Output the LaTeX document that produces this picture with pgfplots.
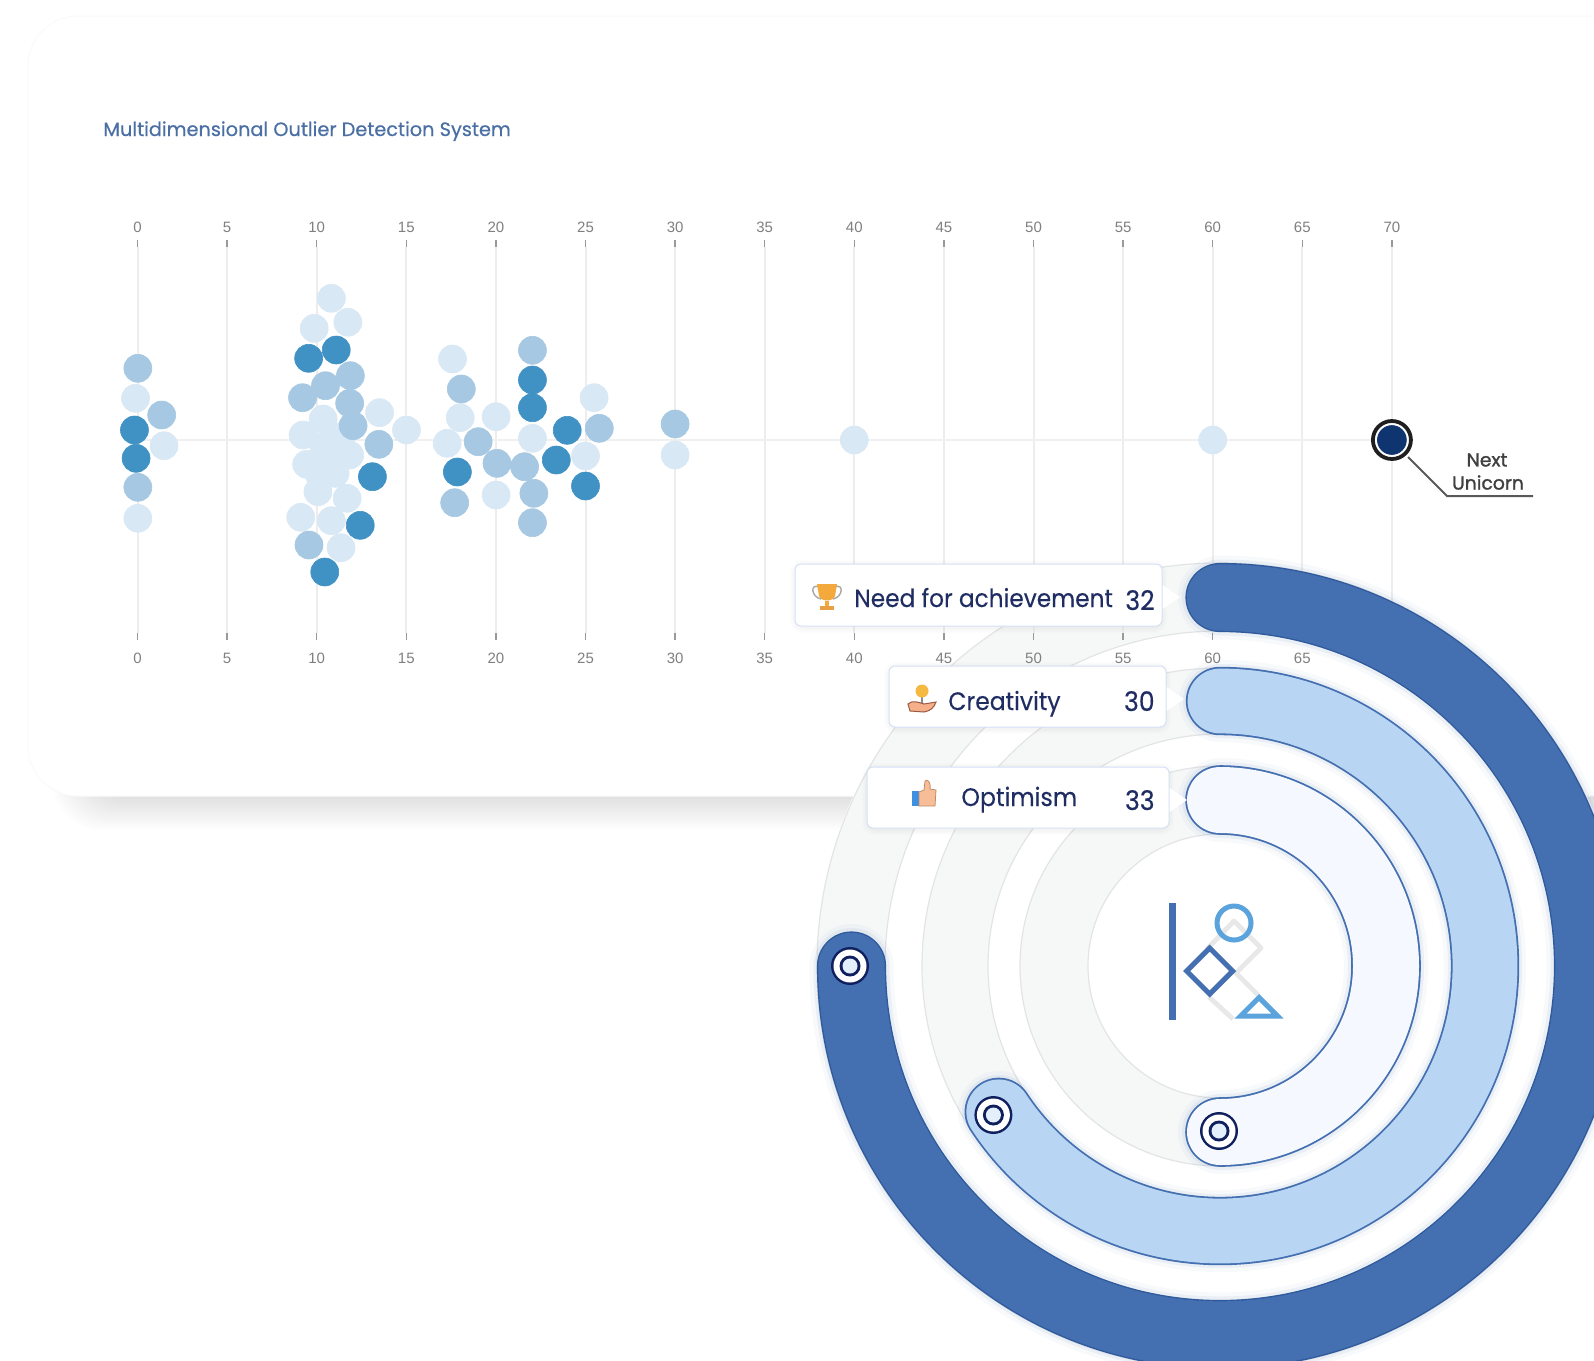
\documentclass[border=0pt]{standalone}
\usepackage{fontspec}
\usepackage{pgfplots}
\pgfplotsset{compat=1.18}
\usetikzlibrary{calc}
\setmainfont{Poppins}
\newfontfamily\arial{Liberation Sans}
\newfontfamily\tipf{Poppins}[FakeStretch=0.93,FakeBold=0.25]
\newfontfamily\titf{Poppins}[FakeBold=0.5]
\newfontfamily\unif{Poppins}[FakeBold=1.3]
\definecolor{cL}{HTML}{D9E8F5}
\definecolor{cM}{HTML}{A6C8E2}
\definecolor{cD}{HTML}{4192C4}
\definecolor{navy}{HTML}{10205E}
\definecolor{uni}{HTML}{0E3570}
\definecolor{ringA}{HTML}{446FB0}
\definecolor{ringAe}{HTML}{2F5A9C}
\definecolor{ringB}{HTML}{B8D6F4}
\definecolor{ringC}{HTML}{F5F8FE}
\definecolor{track}{HTML}{F4F6F6}
\definecolor{trackE}{HTML}{E2E4E6}
\definecolor{ink}{HTML}{1F2D63}
\definecolor{logoL}{HTML}{5BA3DC}
\definecolor{titlec}{HTML}{4A6FA5}
\definecolor{tipE}{HTML}{D5E0F5}
\definecolor{pale}{HTML}{E3F0FB}
\definecolor{gold}{HTML}{F4A93C}
\definecolor{gold2}{HTML}{E8A040}
\definecolor{bulb}{HTML}{F5B942}
\definecolor{peach}{HTML}{F5B08A}
\definecolor{peachE}{HTML}{9A5A44}
\definecolor{thumbB}{HTML}{3F8FE0}
\definecolor{thumbP}{HTML}{F7BD96}
\definecolor{thumbE}{HTML}{C08A6A}
\newcommand{\px}[1]{\fontsize{#1}{#1}\selectfont}
\tikzset{pix/.style={x=0.5pt,y=-0.5pt}}
\pgfplotsset{base/.style={
  at={(68.75pt,-316.5pt)},anchor=south west,width=627.2pt,height=193pt,scale only axis,
  xmin=0,xmax=70,ymin=-193,ymax=193,xtick={0,5,...,70},ytick=\empty,clip=false,
  axis line style={draw=none},major tick length=3.5pt,tick align=outside,
  xtick style={draw=black!40,line width=.7pt},
  xticklabel style={font=\arial\px{7.5},text=black!50},
  /pgf/number format/assume math mode=true}}
\begin{document}
\begin{tikzpicture}
\useasboundingbox (0,0) rectangle (797pt,-680pt);
\clip (0,0) rectangle (797pt,-680pt);
\begin{scope}[pix]
\fill[white] (0,0) rectangle (1594,1360);
% card with soft shadow
\foreach \i in {0,...,14}{
  \fill[black,opacity=.006,rounded corners=25pt] ({52+2*\i},100) rectangle (1640,{830-2.2*\i});
}
\draw[black!2,line width=.5pt,rounded corners=25pt,fill=white] (28,16) rectangle (1640,796);
% ring tracks
\coordinate (c) at (1220,966);
\fill[white] (c) circle[radius=404];
\foreach \a/\b in {403/335,298/232,200/132}{
  \fill[track,opacity=.75,even odd rule] (c) circle[radius=\a] (c) circle[radius=\b];
  \draw[trackE,line width=.6pt] (c) circle[radius=\a] (c) circle[radius=\b];
}
\end{scope}
% swarm
\begin{axis}[base,xtick pos=bottom,xticklabel pos=bottom,xmajorgrids,
  grid style={draw=black!7,line width=1pt},tick label style={yshift=-3pt}]
\addplot[black!6,line width=1pt] coordinates {(0,0)(70,0)};
\addplot[only marks,mark=*,mark size=7pt,mark options={fill=cL,draw=cL,line width=.3pt}] coordinates {
(-0.11,41.7)(0.02,-78.3)(1.48,-5.7)
(10.82,141.7)(9.86,111.7)(11.74,117.7)(13.51,27.3)(15.01,10)
(10.36,21)(9.24,5)(10.40,-6.7)(11.84,-15)(10.59,-20)(9.44,-24.3)(11.03,-33.3)
(11.36,3.3)(10.2,-36.7)
(10.07,-51.7)(11.70,-58.3)(9.11,-77.3)(10.82,-80.7)(11.36,-107.7)
(17.58,81)(18.01,22.3)(20.01,23.3)(17.28,-3.3)(20.01,-55)
(22.04,1.7)(25.48,42.3)(25.00,-16)
(30,-15)(40,0)(60,0)};
\addplot[only marks,mark=*,mark size=7pt,mark options={fill=cM,draw=cM,line width=.3pt}] coordinates {
(0.02,71.7)(0.02,-47.3)(1.35,25)
(11.88,64.3)(10.49,54.3)(9.21,42.3)(11.84,36.7)(12.03,14.3)(13.47,-4.3)(9.57,-105)
(18.07,51)(19.01,-1.7)(20.06,-23.3)(17.70,-62.7)
(22.04,89.7)(25.77,11.7)(21.60,-26.7)(22.12,-53.3)(22.04,-82.7)
(30,16)};
\addplot[only marks,mark=*,mark size=7pt,mark options={fill=cD,draw=cD,line width=.3pt}] coordinates {
(-0.17,10)(-0.08,-18.3)
(9.55,81.7)(11.09,90)(13.11,-36.7)(12.43,-85.3)(10.45,-132)
(17.85,-32)(22.04,60)(22.04,32.3)(23.98,9.7)(23.37,-20)(25.00,-46)};
\addplot[only marks,mark=*,mark size=9.5pt,mark options={fill=white,draw=black!88,line width=1.9pt}] coordinates {(70,0)};
\addplot[only marks,mark=*,mark size=7.2pt,mark options={fill=uni,draw=uni}] coordinates {(70,0)};
\end{axis}
\begin{axis}[base,xtick pos=top,xticklabel pos=top]
\end{axis}
\begin{scope}[pix]
% title and callout
\node[anchor=base west,inner sep=0,text=titlec,font=\titf\px{9.65}] at (103,136) {Multidimensional Outlier Detection System};
\draw[black!65,line width=1pt] (1408,457) -- (1447,496) -- (1533,496);
\node[inner sep=0,text=black!75,font=\unif\px{9.4}] at (1487,460) {Next};
\node[inner sep=0,text=black!75,font=\unif\px{9.4}] at (1488,482.5) {Unicorn};
% rings
\foreach \w/\s in {8/.04,4/.07}{
  \draw[ringA,opacity=\s,line width=34pt+\w pt,line cap=round] (c) ++(-90:368.5) arc[start angle=-90,end angle=180,radius=368.5];
  \draw[ringA,opacity=\s,line width=33pt+\w pt,line cap=round] (c) ++(-90:265) arc[start angle=-90,end angle=146.6,radius=265];
  \draw[ringA,opacity=\s,line width=34pt+\w pt,line cap=round] (c) ++(-90:166) arc[start angle=-90,end angle=90,radius=166];
}
\draw[ringAe,line width=34.6pt,line cap=round] (c) ++(-90:368.5) arc[start angle=-90,end angle=180,radius=368.5];
\draw[ringA,line width=33.2pt,line cap=round] (c) ++(-90:368.5) arc[start angle=-90,end angle=180,radius=368.5];
\draw[ringA,line width=34.2pt,line cap=round] (c) ++(-90:265) arc[start angle=-90,end angle=146.6,radius=265];
\draw[ringB,line width=32.4pt,line cap=round] (c) ++(-90:265) arc[start angle=-90,end angle=146.6,radius=265];
\draw[ringA,line width=34.8pt,line cap=round] (c) ++(-90:166) arc[start angle=-90,end angle=90,radius=166];
\draw[ringC,line width=33pt,line cap=round] (c) ++(-90:166) arc[start angle=-90,end angle=90,radius=166];
% targets
\foreach \p in {(850,966),(993.4,1115),(1219,1131)}{
  \fill[navy] \p circle[radius=19];
  \fill[white] \p circle[radius=16.5];
  \fill[navy] \p circle[radius=10.5];
  \fill[pale] \p circle[radius=7.5];
}
% logo
\fill[ringA] (1169,903) rectangle (1175.5,1020);
\draw[black!9,line width=2.4pt,line join=round] (1207,949) -- (1234,921) -- (1261,948) -- (1236,973) -- (1258,995);
\draw[black!9,line width=2.4pt] (1209,997) -- (1233,1019);
\draw[ringA,line width=2.5pt,line join=miter] (1209.7,948) -- (1232.7,971) -- (1209.7,994) -- (1186.7,971) -- cycle;
\draw[logoL,line width=2.5pt] (1234,923) circle[radius=17];
\draw[logoL,line width=2.5pt,line join=miter] (1259,997.5) -- (1277.5,1016) -- (1240.5,1016) -- cycle;
% tooltips
\foreach \xa/\ya/\xb/\yb in {795/564/1162/626,889/666/1166/727,867/767/1169/828}{
  \foreach \k in {0,...,4}{
    \fill[black,opacity=.006,rounded corners=6pt] ({\xa-\k-1},{\ya-\k}) rectangle ({\xb+\k+1},{\yb+\k+3});
  }
  \fill[white] (\xb-1,\ya+20) -- (\xb+18,\ya+33) -- (\xb-1,\ya+46) -- cycle;
  \draw[tipE,line width=.5pt,fill=white,rounded corners=3pt] (\xa,\ya) rectangle (\xb,\yb);
}
\node[anchor=base west,inner sep=0,text=ink,font=\tipf\px{12.5}] at (854,607) {Need for achievement};
\node[anchor=base east,inner sep=0,text=ink,font=\tipf\px{13.5}] at (1155,610) {32};
\node[anchor=base west,inner sep=0,text=ink,font=\tipf\px{12.6}] at (948,710) {Creativity};
\node[anchor=base east,inner sep=0,text=ink,font=\tipf\px{13.5}] at (1155,711) {30};
\node[anchor=base west,inner sep=0,text=ink,font=\tipf\px{12.7}] at (961,806) {Optimism};
\node[anchor=base east,inner sep=0,text=ink,font=\tipf\px{13.5}] at (1155,810) {33};
% icons
\draw[black!35,line width=.7pt] (819,587) .. controls (810,583) and (811,597) .. (821,599);
\draw[black!35,line width=.7pt] (835,587) .. controls (844,583) and (843,597) .. (833,599);
\fill[gold] (817,584) -- (837,584) -- (835,596) .. controls (833,602) and (821,602) .. (819,596) -- cycle;
\fill[gold] (825,601) rectangle (829,606);
\fill[gold2] (820,606) rectangle (834,610);
\draw[black!45,line width=.6pt] (922,697) -- (922,703);
\fill[bulb] (922,691) circle[radius=6.5];
\draw[peachE,line width=.5pt,fill=peach] (908,704) .. controls (912,700) and (918,702) .. (924,704) -- (936,702) .. controls (934,708) and (930,711) .. (924,712) -- (910,711) -- cycle;
\fill[thumbB] (912,791) rectangle (919,806);
\draw[thumbE,line width=.4pt,fill=thumbP] (919,792) -- (924,790) -- (925,781) .. controls (927,779) and (931,781) .. (930,789) -- (936,790) -- (935,806) -- (919,806) -- cycle;
\end{scope}
\end{tikzpicture}
\end{document}
